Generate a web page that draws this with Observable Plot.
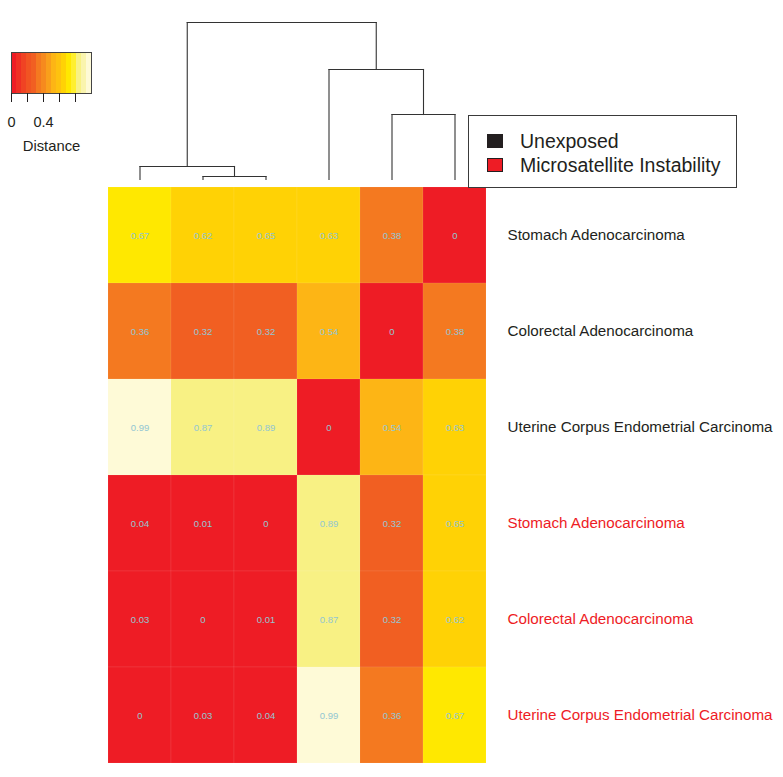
<!DOCTYPE html>
<html>
<head>
<meta charset="utf-8">
<script src="https://cdn.jsdelivr.net/npm/d3@7"></script>
<script src="https://cdn.jsdelivr.net/npm/@observablehq/plot@0.6"></script>
<style>
  body { margin: 0; background: #fff; }
  #chart { position: relative; width: 783px; height: 777px; background: #fff; font-family: "Liberation Sans", Arial, Helvetica, sans-serif; }
  #chart svg { position: absolute; left: 0; top: 0; }
  #legend { position: absolute; left: 468px; top: 115px; width: 269px; height: 73px; border: 1px solid #3a3a3a; box-sizing: border-box; }
  .item { position: absolute; left: 51px; font-size: 19.5px; color: #231F20; line-height: 20px; white-space: nowrap; }
  .sw { position: absolute; left: -33px; top: 3px; width: 14px; height: 12px; border: 1px solid #231F20; }
</style>
</head>
<body>
<div id="chart"></div>
<script>
// ---------- data ----------
const columnIds = ["Uterine MSI", "Colorectal MSI", "Stomach MSI", "Uterine Unexposed", "Colorectal Unexposed", "Stomach Unexposed"];
const rowCancers = ["Stomach Adenocarcinoma", "Colorectal Adenocarcinoma", "Uterine Corpus Endometrial Carcinoma",
                    "Stomach Adenocarcinoma", "Colorectal Adenocarcinoma", "Uterine Corpus Endometrial Carcinoma"];
const rowGroups = ["Unexposed", "Unexposed", "Unexposed",
                   "Microsatellite Instability", "Microsatellite Instability", "Microsatellite Instability"];
const stomachUnexposed    = [0.67, 0.62, 0.65, 0.63, 0.38, 0];
const colorectalUnexposed = [0.36, 0.32, 0.32, 0.54, 0, 0.38];
const uterineUnexposed    = [0.99, 0.87, 0.89, 0, 0.54, 0.63];
const stomachMSI          = [0.04, 0.01, 0, 0.89, 0.32, 0.65];
const colorectalMSI       = [0.03, 0, 0.01, 0.87, 0.32, 0.62];
const uterineMSI          = [0, 0.03, 0.04, 0.99, 0.36, 0.67];
const rowValues = [stomachUnexposed, colorectalUnexposed, uterineUnexposed, stomachMSI, colorectalMSI, uterineMSI];

// column dendrogram (hclust style: negative = leaf column index+1, positive = earlier merge)
const mergeLeft   = [-2, -1, -5, -4, 2];
const mergeRight  = [-3, 1, -6, 3, 4];
const mergeHeight = [0.03, 0.13, 0.65, 1.10, 1.57];

// color key
const colorBreaks = [0.0625, 0.125, 0.1875, 0.25, 0.34, 0.4, 0.45, 0.5, 0.58, 0.6, 0.66, 0.75, 0.8, 0.9, 0.95];
const colorSteps = ["#EE1C25", "#EF2F24", "#F04323", "#F15422", "#F15F22", "#F47920", "#F68A1E", "#F99F1B",
                    "#FDB515", "#FEC20F", "#FFD205", "#FFE800", "#FFEF2E", "#F8F184", "#FAF4AE", "#FEFAD7"];
const keyTicks = [0, 0.2, 0.4, 0.6, 0.8];
const keyTickLabels = ["0", "", "0.4", "", ""];
const groupColors = {"Unexposed": "#231F20", "Microsatellite Instability": "#EE1C25"};

// ---------- build table ----------
const rowIds = rowCancers.map((c, i) => rowGroups[i] + "|" + c);
const cells = [];
rowValues.forEach((vals, r) => vals.forEach((v, c) => cells.push({row: rowIds[r], col: columnIds[c], value: v})));
const rowsTable = rowIds.map((id, i) => ({id, cancer: rowCancers[i], group: rowGroups[i]}));

const font = "Liberation Sans, Arial, Helvetica, sans-serif";
const chart = document.getElementById("chart");

// ---------- heatmap ----------
const heat = Plot.plot({
  width: 783, height: 777,
  marginLeft: 108, marginRight: 297, marginTop: 185, marginBottom: 12,
  style: {fontFamily: font, background: "transparent", overflow: "visible"},
  x: {domain: columnIds, padding: 0, axis: null},
  y: {domain: rowIds, padding: 0, axis: null},
  color: {type: "threshold", domain: colorBreaks, range: colorSteps},
  marks: [
    Plot.cell(cells, {x: "col", y: "row", fill: "value", stroke: "#ffffff", strokeOpacity: 0.12, strokeWidth: 0.6}),
    Plot.text(cells, {x: "col", y: "row", text: d => String(d.value), fill: "#93C6D2", fontSize: 9.5}),
    ...Object.keys(groupColors).map(g =>
      Plot.text(rowsTable.filter(d => d.group === g), {
        y: "id", text: "cancer", frameAnchor: "right", dx: 21, textAnchor: "start",
        fill: groupColors[g], fontSize: 15.2
      }))
  ]
});
chart.appendChild(heat);

// ---------- dendrogram ----------
const nodeX = [], nodeH = [];
function childPos(k) { return k < 0 ? {x: -k - 1 + 0.5, h: 0} : {x: nodeX[k - 1], h: nodeH[k - 1]}; }
const segs = [];
mergeHeight.forEach((h, i) => {
  const a = childPos(mergeLeft[i]), b = childPos(mergeRight[i]);
  segs.push({x1: a.x, y1: a.h, x2: a.x, y2: h});
  segs.push({x1: a.x, y1: h, x2: b.x, y2: h});
  segs.push({x1: b.x, y1: b.h, x2: b.x, y2: h});
  nodeX.push((a.x + b.x) / 2); nodeH.push(h);
});
const dendro = Plot.plot({
  width: 783, height: 190,
  marginLeft: 108, marginRight: 297, marginTop: 22, marginBottom: 11,
  style: {background: "transparent", overflow: "visible"},
  x: {domain: [0, columnIds.length], axis: null},
  y: {domain: [0, d3.max(mergeHeight)], axis: null},
  marks: [
    Plot.link(segs, {x1: "x1", y1: "y1", x2: "x2", y2: "y2", stroke: "#333333", strokeWidth: 1.1, strokeLinecap: "square"})
  ]
});
chart.appendChild(dendro);

// ---------- color key ----------
const stripes = colorSteps.map((c, i) => ({x1: i / colorSteps.length, x2: (i + 1) / colorSteps.length, c}));
const key = Plot.plot({
  width: 110, height: 160,
  marginLeft: 11, marginRight: 19, marginTop: 52, marginBottom: 67,
  style: {fontFamily: font, background: "transparent", overflow: "visible", color: "#231F20"},
  x: {domain: [0, 1], axis: null},
  color: {type: "identity"},
  marks: [
    Plot.rect(stripes, {x1: "x1", x2: "x2", fill: "c"}),
    Plot.frame({stroke: "#444", strokeWidth: 1}),
    Plot.axisX(keyTicks, {anchor: "bottom", tickSize: 9, tickPadding: 14, fontSize: 14.5,
      tickFormat: d => keyTickLabels[keyTicks.indexOf(d)], label: null, stroke: "#231F20", fill: "#231F20"}),
    Plot.text(["Distance"], {x: 0.5, frameAnchor: "bottom", dy: 57, lineAnchor: "bottom", fontSize: 14.8, fill: "#231F20"})
  ]
});
chart.appendChild(key);

// ---------- group legend ----------
const legend = document.createElement("div");
legend.id = "legend";
Object.keys(groupColors).forEach((g, i) => {
  const it = document.createElement("div");
  it.className = "item";
  it.style.top = (15 + i * 24) + "px";
  const sw = document.createElement("span");
  sw.className = "sw";
  sw.style.background = groupColors[g];
  it.appendChild(sw);
  it.appendChild(document.createTextNode(g));
  legend.appendChild(it);
});
chart.appendChild(legend);
</script>
</body>
</html>
